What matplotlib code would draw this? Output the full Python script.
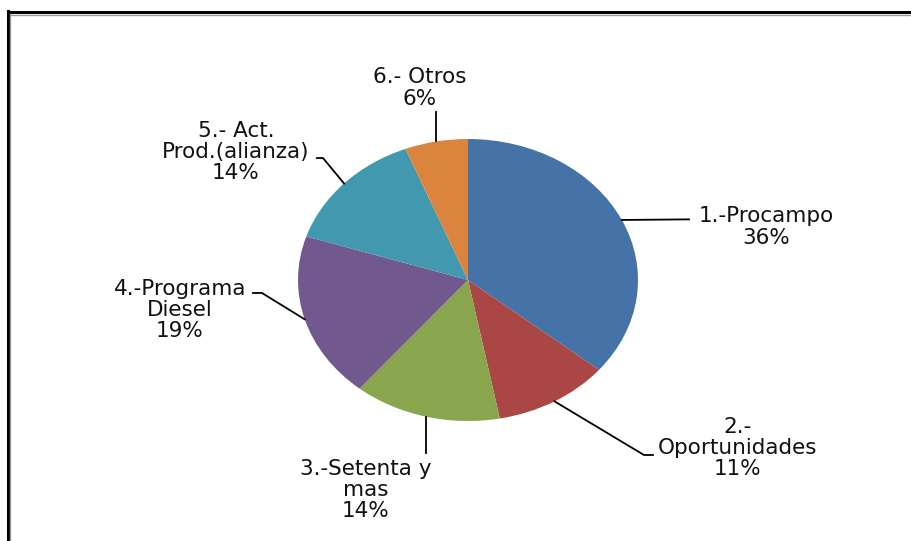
import numpy as np
import matplotlib.pyplot as plt
from matplotlib.lines import Line2D

plt.rcParams['font.family'] = ['DejaVu Sans']

# datos
etiquetas = ['1.-Procampo', '2.-\nOportunidades', '3.-Setenta y\nmas',
             '4.-Programa\nDiesel', '5.- Act.\nProd.(alianza)', '6.- Otros']
porcentajes = [36, 11, 14, 19, 14, 6]
colores = ['#4572A7', '#AA4643', '#89A54E', '#71588F', '#4198AF', '#DB843D']

# posiciones de las etiquetas (en unidades del radio)
pos_texto = [(1.753, 0.376), (1.588, -1.191), (-0.60, -1.489),
             (-1.694, -0.213), (-1.365, 0.908), (-0.282, 1.362)]
# puntos de quiebre de las lineas guia
quiebres = [[(1.30, 0.43)],
            [(1.035, -1.241), (1.088, -1.241)],
            [(None, -1.227)],
            [(-1.212, -0.092), (-1.265, -0.092)],
            [(-0.853, 0.865), (-0.888, 0.865)],
            [(None, 1.191)]]

W, H = 912, 541
fig = plt.figure(figsize=(W / 100, H / 100), dpi=100)
fig.patch.set_facecolor('white')

# pie eliptico: centro (468, 280), rx=170, ry=141 en pixeles
cx, cy, rx, ry = 468, 280, 170, 141
ax = fig.add_axes([(cx - rx) / W, (H - cy - ry) / H, 2 * rx / W, 2 * ry / H])
wedges, _ = ax.pie(porcentajes, colors=colores, startangle=90, counterclock=False,
                   wedgeprops=dict(linewidth=0))
ax.set_aspect('auto')
ax.set_xlim(-1, 1)
ax.set_ylim(-1, 1)
ax.axis('off')

for w, txt, p, (tx, ty), q in zip(wedges, etiquetas, porcentajes, pos_texto, quiebres):
    ang = np.deg2rad((w.theta1 + w.theta2) / 2)
    ex, ey = np.cos(ang), np.sin(ang)
    xs, ys = [ex], [ey]
    for (qx, qy) in q:
        xs.append(ex if qx is None else qx)
        ys.append(qy)
    ax.plot(xs, ys, color='black', lw=1.3, clip_on=False)
    ax.text(tx, ty, f'{txt}\n{p}%', ha='center', va='center', fontsize=15.5,
            color='#111111', linespacing=1.07, clip_on=False)

# marco de la imagen (solo arriba e izquierda)
fig.add_artist(Line2D([8 / W, 1], [1 - 12 / H] * 2, color='black', lw=2.2))
fig.add_artist(Line2D([10 / W, 1], [1 - 14.5 / H] * 2, color='#999999', lw=1))
fig.add_artist(Line2D([8 / W] * 2, [0, 1 - 11 / H], color='black', lw=2.2))
fig.add_artist(Line2D([10.5 / W] * 2, [0, 1 - 14 / H], color='#999999', lw=1))

fig.savefig('out.png', dpi=100)
